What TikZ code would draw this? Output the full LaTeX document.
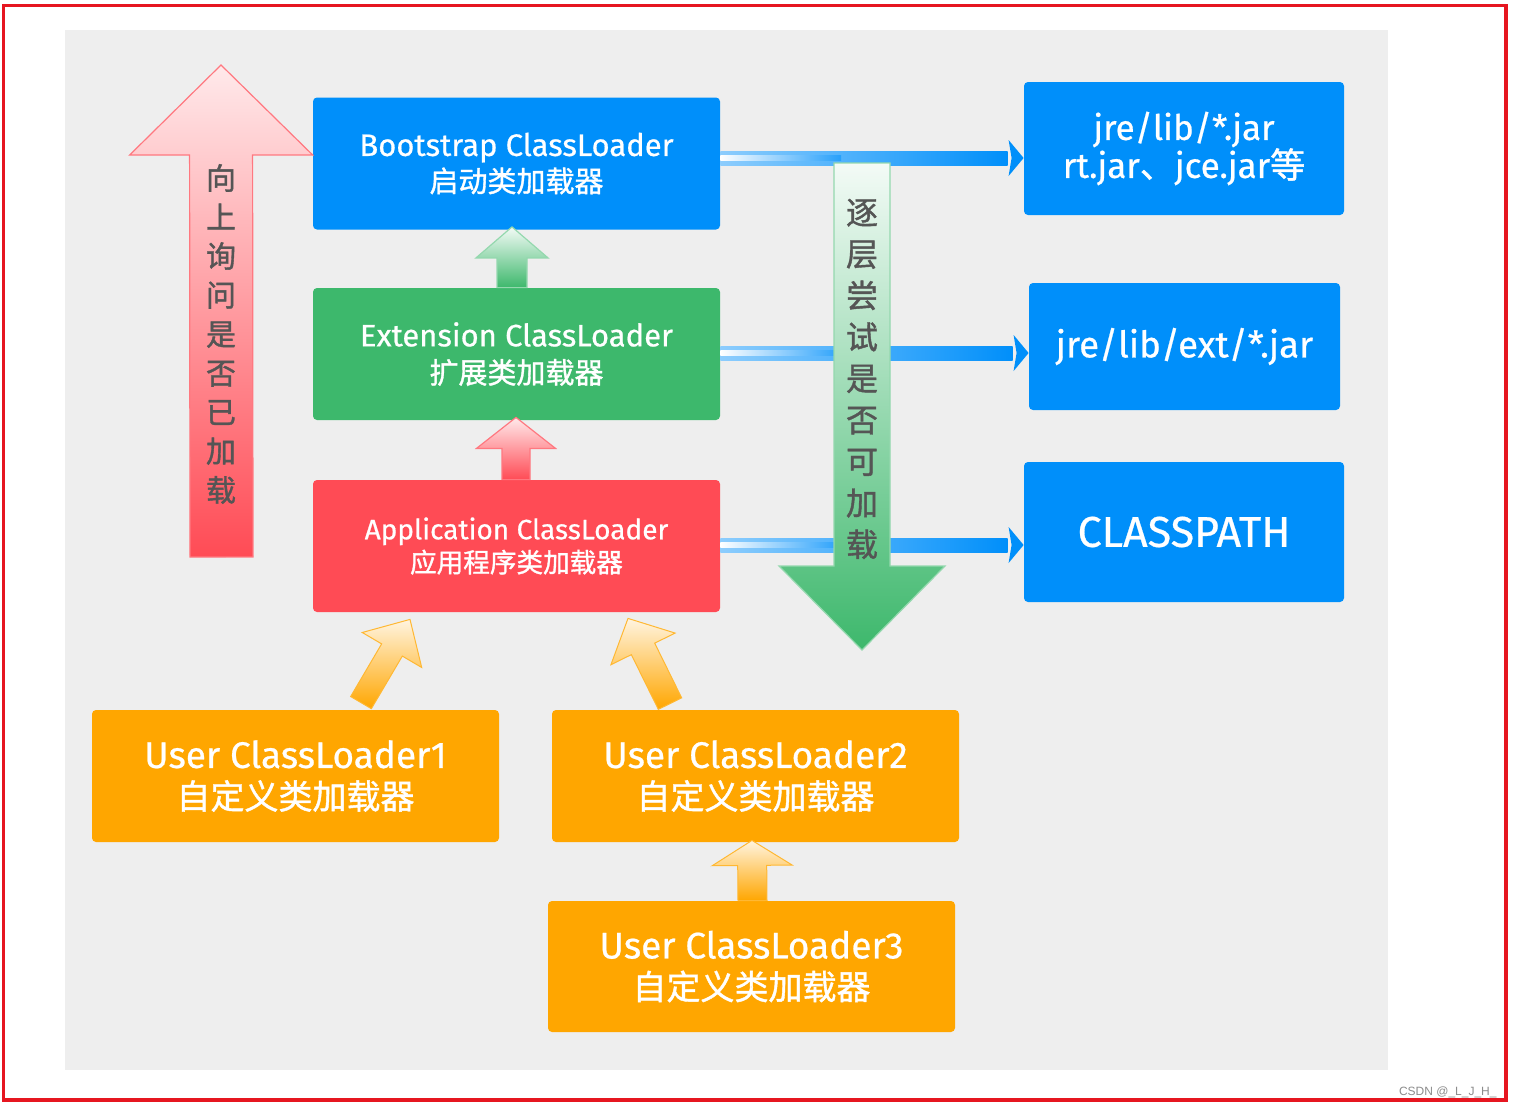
\documentclass[tikz,border=0pt]{standalone}
\usepackage{fontspec}
\setmainfont{Fira Sans}[FakeBold=0.6]
\newfontfamily\cjk{Noto Sans CJK SC}[FakeBold=1.2]
\newfontfamily\wmfont{Liberation Sans}
\usetikzlibrary{calc}
\definecolor{cblue}{RGB}{0,143,250}
\definecolor{cgreen}{RGB}{61,184,108}
\definecolor{cred}{RGB}{255,75,85}
\definecolor{corange}{RGB}{255,166,0}
\definecolor{bggray}{RGB}{238,238,238}
\definecolor{frame}{RGB}{230,22,32}
\definecolor{vtext}{RGB}{85,85,85}
% block arrow: #1 style, #2 tail, #3 tip, #4 shaft half width, #5 head half width, #6 head length
\newcommand\blockarr[6]{%
  \coordinate (bab) at ($(#3)!#6!(#2)$);
  \path[#1] ($(#2)!#4!90:(#3)$) -- ($(bab)!#4!90:(#3)$) -- ($(bab)!#5!90:(#3)$) -- (#3)
    -- ($(bab)!#5!-90:(#3)$) -- ($(bab)!#4!-90:(#3)$) -- ($(#2)!#4!-90:(#3)$) -- cycle;}
% connector: #1 start, #2 tip
\newcommand\connarr[2]{%
  \coordinate (cb) at ($(#2)+(-16,0)$);
  \shade[left color=cblue!45!white, middle color=cblue, right color=cblue]
    ($(#1)+(0,-7)$) rectangle ($(cb)+(0,7)$);
  \shade[left color=white, right color=cblue!85!white]
    ($(#1)+(0,-2.5)$) rectangle ($($(#1)!0.42!(cb)$)+(0,2.5)$);
  \fill[cblue] ($(cb)+(1,-18)$) -- (#2) -- ($(cb)+(1,18)$) -- ($(cb)+(4,0)$) -- cycle;}
\newcommand\cn[1]{{\cjk\fontsize{#1}{#1}\selectfont}}
\tikzset{
  box/.style={rectangle, rounded corners=2pt, inner sep=0pt, align=center, text=white,
    minimum width=203.5pt, minimum height=66pt},
  redarr/.style={top color=cred!12!white, bottom color=cred, draw=cred!75!white, line width=0.6pt},
  grnarr/.style={top color=cgreen!6!white, bottom color=cgreen, draw=cgreen!55!white, line width=0.6pt},
  orgarr/.style={top color=corange!12!white, bottom color=corange, draw=corange!80!white, line width=0.5pt},
  vtxt/.style={align=center, text=vtext, inner sep=0pt},
}
\begin{document}
\begin{tikzpicture}[x=0.5pt, y=-0.5pt]
\useasboundingbox (0,0) rectangle (1517,1108);
\fill[white] (0,0) rectangle (1517,1108);
\fill[bggray] (65,30) rectangle (1388,1070);
\draw[frame, line width=1.6pt] (3.5,5.5) rectangle (1506,1100);

% main boxes
\node[box, fill=cblue, font=\fontsize{15.5}{18}\selectfont] (boot) at (516.5,163.5)
  {Bootstrap ClassLoader\\{\cjk\fontsize{14.5}{18}\selectfont 启动类加载器}};
\node[box, fill=cgreen, font=\fontsize{15.5}{18.5}\selectfont] (ext) at (516.5,354)
  {Extension ClassLoader\\{\cjk\fontsize{14.5}{18.5}\selectfont 扩展类加载器}};
\node[box, fill=cred, font=\fontsize{14}{16.5}\selectfont] (app) at (516.5,546)
  {Application ClassLoader\\{\cjk\fontsize{13.3}{16.5}\selectfont 应用程序类加载器}};

% right boxes
\node[box, fill=cblue, minimum width=160pt, minimum height=66.5pt, font=\fontsize{17.5}{19}\selectfont] (jre) at (1184,148.5)
  {jre/lib/*.jar\\rt.jar{\cjk 、}jce.jar{\cjk 等}};
\node[box, fill=cblue, minimum width=155.5pt, minimum height=63.5pt, font=\fontsize{18.3}{19}\selectfont] (extjar) at (1184.5,346.5)
  {jre/lib/ext/*.jar};
\node[box, fill=cblue, minimum width=160pt, minimum height=70pt, font=\fontsize{21.5}{22}\selectfont] (cp) at (1184,532)
  {CLASSPATH};

% user boxes
\node[box, fill=corange, font=\fontsize{18.5}{20.5}\selectfont] (u1) at (295.5,776)
  {User ClassLoader1\\{\cjk\fontsize{17}{20.5}\selectfont 自定义类加载器}};
\node[box, fill=corange, font=\fontsize{18.5}{20.5}\selectfont] (u2) at (755.5,776)
  {User ClassLoader2\\{\cjk\fontsize{17}{20.5}\selectfont 自定义类加载器}};
\node[box, fill=corange, minimum height=65.5pt, font=\fontsize{18.5}{20.5}\selectfont] (u3) at (751.5,966.5)
  {User ClassLoader3\\{\cjk\fontsize{17}{20.5}\selectfont 自定义类加载器}};

% connectors to the right boxes
\coordinate (s1) at ($(boot.east)+(0,-5.5)$);
\coordinate (e1) at (jre.west |- s1);
\connarr{s1}{e1}
\coordinate (s2) at ($(ext.east)+(0,-1)$);
\coordinate (e2) at (extjar.west |- s2);
\connarr{s2}{e2}
\coordinate (s3) at ($(app.east)+(0,-1)$);
\coordinate (e3) at (cp.west |- s3);
\connarr{s3}{e3}

% big left arrow
\coordinate (lt) at (221.5,557);
\coordinate (lh) at (221,65);
\blockarr{redarr}{lt}{lh}{15.75pt}{45.75pt}{45pt}
\node[vtxt, font=\cjk\fontsize{15}{19.5}\selectfont] (asktxt) at (221,334)
  {向\\上\\询\\问\\是\\否\\已\\加\\载};

% big green arrow
\coordinate (gt) at (862,163);
\coordinate (gh) at (862,650);
\blockarr{grnarr}{gt}{gh}{14pt}{41.5pt}{42pt}
\node[vtxt, font=\cjk\fontsize{16}{20.75}\selectfont] (trytxt) at (862,379)
  {逐\\层\\尝\\试\\是\\否\\可\\加\\载};

% small arrows between loaders
\coordinate (ebt) at ($(ext.north)+(-4.5,0)$);
\coordinate (ebh) at ($(boot.south)+(-4.5,-3)$);
\blockarr{grnarr}{ebt}{ebh}{7.5pt}{18pt}{15.5pt}
\coordinate (aet) at ($(app.north)+(-0.5,0)$);
\coordinate (aeh) at ($(ext.south)+(-0.5,-3)$);
\blockarr{redarr}{aet}{aeh}{7pt}{19.75pt}{15.5pt}
\coordinate (u1t) at ($(u1.north)+(65.5,-7)$);
\coordinate (u1h) at ($(app.south)+(-106.5,7)$);
\blockarr{orgarr}{u1t}{u1h}{6pt}{17.25pt}{17.75pt}
\coordinate (u2t) at ($(u2.north)+(-85.5,-6)$);
\coordinate (u2h) at ($(app.south)+(111.5,6)$);
\blockarr{orgarr}{u2t}{u2h}{6.5pt}{17.9pt}{17pt}
\coordinate (u3t) at ($(u3.north)+(1,0)$);
\coordinate (u3h) at ($(u2.south)+(-3.5,-2)$);
\blockarr{orgarr}{u3t}{u3h}{7.25pt}{20pt}{12.5pt}

% watermark
\node[anchor=east, inner sep=0pt, text=black!45, font=\wmfont\fontsize{6}{6}\selectfont] (wm) at (1497,1092)
  {CSDN @\_L\_J\_H\_};
\end{tikzpicture}
\end{document}
